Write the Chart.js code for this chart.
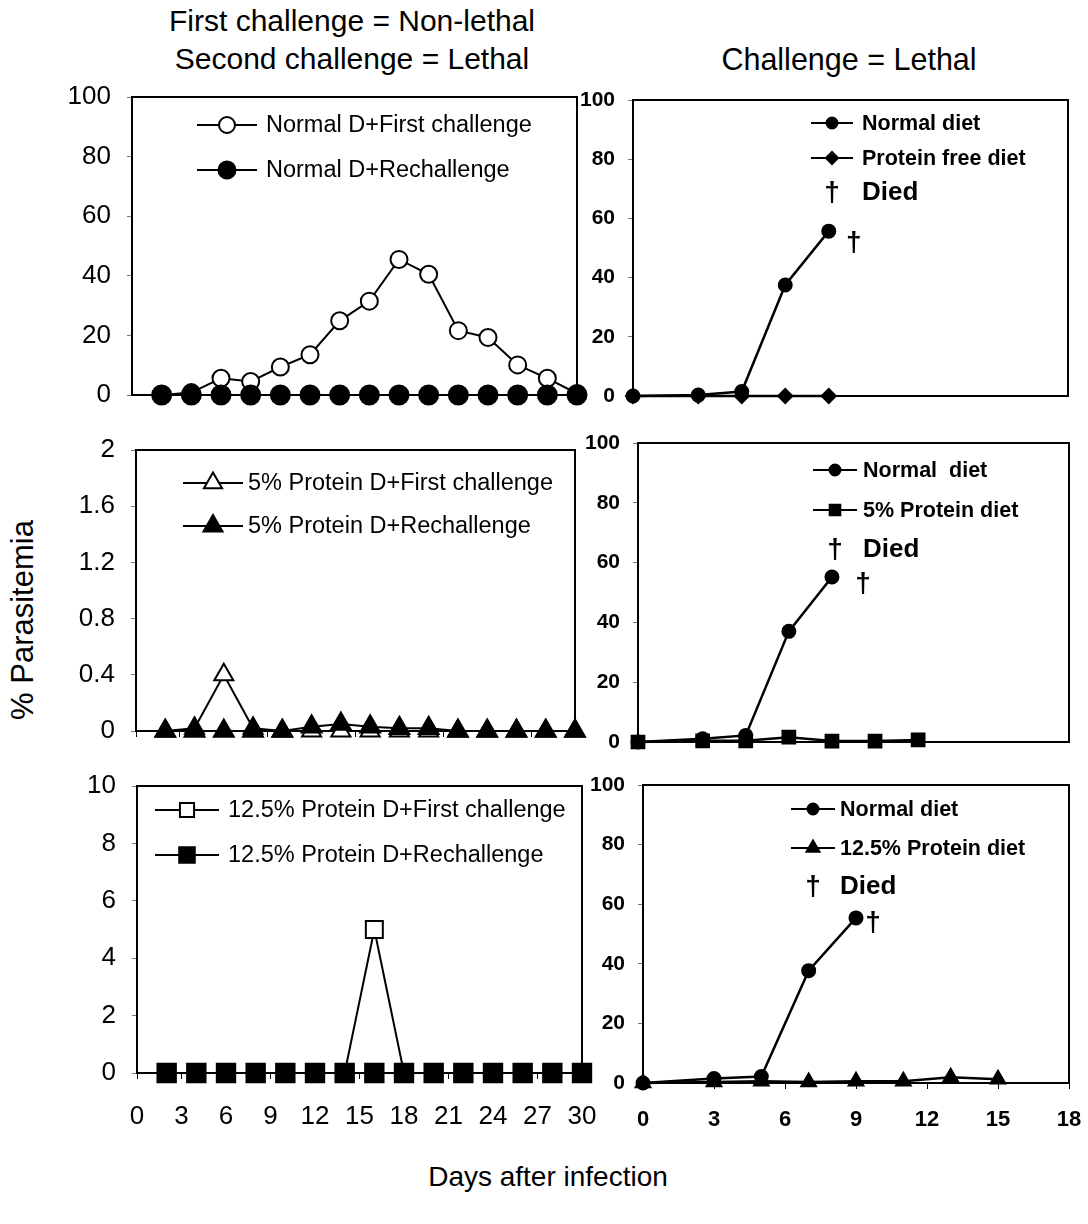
<!DOCTYPE html>
<html><head><meta charset="utf-8">
<script src="https://cdn.jsdelivr.net/npm/chart.js@4.4.1/dist/chart.umd.min.js"></script>
<style>
body{margin:0;background:#fff;}
#page{position:relative;width:1088px;height:1224px;background:#fff;overflow:hidden;font-family:"Liberation Sans",Arial,sans-serif;color:#000;}
.t{position:absolute;white-space:nowrap;transform:translate(-50%,-50%);line-height:1;}
canvas{position:absolute;}
</style></head><body><div id="page">
<div class="t" style="left:352px;top:21px;font-size:30px">First challenge = Non-lethal</div>
<div class="t" style="left:352px;top:59px;font-size:30px">Second challenge = Lethal</div>
<div class="t" style="left:849px;top:59px;font-size:30.5px">Challenge = Lethal</div>
<div class="t" style="left:22px;top:620px;font-size:31px;transform:translate(-50%,-50%) rotate(-90deg)">% Parasitemia</div>
<div class="t" style="left:548px;top:1177px;font-size:28px">Days after infection</div>
<canvas id="tl"></canvas><canvas id="tr"></canvas>
<canvas id="ml"></canvas><canvas id="mr"></canvas>
<canvas id="bl"></canvas><canvas id="br"></canvas>
</div>
<script>
// ---------- data ----------
const leftDays = [2,4,6,8,10,12,14,16,18,20,22,24,26,28,30];
const normalFirst = [0,0.8,5.6,4.5,9.4,13.5,24.9,31.5,45.5,40.5,21.6,19.3,10.1,5.6,0.5];
const normalRe    = [0,0,0,0,0,0,0,0,0,0,0,0,0,0,0];
const p5First     = [0,0.02,0.4,0.02,0,0,0,0,0,0,0,0,0,0,0];
const p5Re        = [0,0,0,0,0,0.03,0.05,0.03,0.02,0.02,0,0,0,0,0];
const p125First   = [0,0,0,0,0,0,0,5,0,0,0,0,0,0,0];
const p125Re      = [0,0,0,0,0,0,0,0,0,0,0,0,0,0,0];

const daysA = [0,3,5,7,9];
const normalDietA = [0,0.3,1.5,37.5,55.7];
const proteinFreeDiet = [0,0,0,0,0];
const daysB = [0,3,5,7,9,11,13];
const normalDietB = [0,1.1,2.2,37,55.2];
const protein5Diet = [0,0.4,0.4,1.6,0.3,0.3,0.7];
const daysC = [0,3,5,7,9,11,13,15];
const normalDietC = [0,1.5,2.2,37.7,55.4];
const protein125Diet = [0,0.3,0.6,0.3,0.6,0.6,1.9,1.3];

const ticksPct = [0,20,40,60,80,100];
const ticksML = [0,0.4,0.8,1.2,1.6,2];
const ticksBL = [0,2,4,6,8,10];
const ticksLeftX = [0,3,6,9,12,15,18,21,24,27,30];
const ticksRightX = [0,3,6,9,12,15,18];

const FONT = "'Liberation Sans', Arial, sans-serif";
const pts = (days, vals) => vals.map((v,i)=>({x:days[i], y:v}));

// ---------- plugins ----------
function marker(ctx, style, x, y, r, fill, bw){
  ctx.save();
  ctx.fillStyle = fill; ctx.strokeStyle = '#000'; ctx.lineWidth = bw;
  Chart.helpers.drawPoint(ctx, {pointStyle:style, radius:r, borderWidth:bw, rotation:0}, x, y);
  ctx.restore();
}
const boxPlugin = {
  id:'box',
  beforeDatasetsDraw(chart){
    const a = chart.chartArea, ctx = chart.ctx;
    ctx.save(); ctx.strokeStyle='#000'; ctx.lineWidth=2;
    ctx.strokeRect(a.left, a.top, a.right-a.left, a.bottom-a.top);
    ctx.restore();
  }
};
const legendPlugin = {
  id:'inLegend',
  afterDatasetsDraw(chart, args, o){
    if(!o || !o.items) return;
    const ctx = chart.ctx, a = chart.chartArea;
    ctx.save();
    o.items.forEach((it,i)=>{
      const y = a.top + o.y0 + i*o.dy;
      const xm = a.left + o.x0;
      ctx.fillStyle = '#000'; ctx.textBaseline='middle';
      if(it.dagger){
        ctx.font = o.daggerFont; ctx.textAlign='center';
        ctx.fillText('\u2020', xm, y);
        ctx.font = o.diedFont; ctx.textAlign='left';
        ctx.fillText(it.text, a.left + o.xt, y);
        return;
      }
      const ds = chart.data.datasets[it.ds];
      ctx.strokeStyle='#000'; ctx.lineWidth = o.lineW;
      ctx.beginPath(); ctx.moveTo(xm-o.half, y); ctx.lineTo(xm+o.half, y); ctx.stroke();
      marker(ctx, ds.pointStyle, xm, y, it.r, ds.pointBackgroundColor, ds.pointBorderWidth);
      ctx.fillStyle='#000'; ctx.font = o.font; ctx.textAlign='left';
      ctx.fillText(ds.label, a.left + o.xt, y + 1);
    });
    ctx.restore();
  }
};
const deathPlugin = {
  id:'death',
  afterDatasetsDraw(chart, args, o){
    if(!o || o.ds === undefined) return;
    const meta = chart.getDatasetMeta(o.ds);
    const p = meta.data[meta.data.length-1];
    const ctx = chart.ctx;
    ctx.save(); ctx.fillStyle='#000'; ctx.font=o.font; ctx.textAlign='center'; ctx.textBaseline='middle';
    ctx.fillText('\u2020', p.x + o.dx, p.y + o.dy);
    ctx.restore();
  }
};

// ---------- panel builder ----------
function panel(id, area, cfg){
  const yW = cfg.yW, padT = 15, padR = 15, xH = cfg.xH;
  const c = document.getElementById(id);
  const w = (area.r-area.l) + yW + padR, h = (area.b-area.t) + padT + xH;
  c.width = w; c.height = h;
  c.style.left = (area.l - yW)+'px'; c.style.top = (area.t - padT)+'px';
  c.style.width = w+'px'; c.style.height = h+'px';
  new Chart(c, {
    type:'line',
    data:{datasets:cfg.datasets},
    options:{
      responsive:false, animation:false, devicePixelRatio:1,
      layout:{padding:{top:padT,right:padR,left:0,bottom:0}},
      plugins:{legend:{display:false}, tooltip:{enabled:false}, inLegend:cfg.legend, death:cfg.death||{}},
      scales:{
        x:{type:'linear', min:cfg.xMin, max:cfg.xMax,
           afterBuildTicks(s){ s.ticks = cfg.xTicks.map(v=>({value:v})); },
           ticks:{display:cfg.xLabels, color:'#000', font:cfg.xFont, padding:cfg.xPad, maxRotation:0, autoSkip:false,
                  callback:v=>String(v)},
           grid:{display:cfg.xTickMarks, drawOnChartArea:false, drawTicks:true, tickLength:6, color:'#000', lineWidth:1},
           border:{display:false},
           afterFit(s){ s.height = xH; s.paddingLeft=0; s.paddingRight=0; }},
        y:{type:'linear', min:cfg.yMin, max:cfg.yMax,
           afterBuildTicks(s){ s.ticks = cfg.yTicks.map(v=>({value:v})); },
           ticks:{color:'#000', font:cfg.yFont, padding:cfg.yPad, autoSkip:false, callback:v=>String(v)},
           grid:{drawOnChartArea:false, drawTicks:true, tickLength:5, color:'#777', lineWidth:1},
           border:{display:false},
           afterFit(s){ s.width = yW; s.paddingTop=0; s.paddingBottom=0; }}
      }
    },
    plugins:[boxPlugin, legendPlugin, deathPlugin]
  });
}
function ds(label, data, style, filled, r, lw, order){
  return {label, data, pointStyle:style, pointRadius:r, pointHoverRadius:r,
    pointBackgroundColor: filled?'#000':'#fff', pointBorderColor:'#000', pointBorderWidth:2,
    borderColor:'#000', borderWidth:lw, tension:0, clip:false, order:order};
}
const leftY = {family:FONT, size:26};
const rightY = {family:FONT, size:21, weight:'bold'};
const legL = {font:`23.5px ${FONT}`, lineW:2};
const legR = {font:`bold 21.5px ${FONT}`, lineW:2, daggerFont:`bold 28px ${FONT}`, diedFont:`bold 26px ${FONT}`};

// top-left
panel('tl', {l:132,t:97,r:577,b:395}, {
  yW:132, xH:15, xMin:0, xMax:30, xTicks:ticksLeftX, xLabels:false, xTickMarks:false,
  yMin:0, yMax:100, yTicks:ticksPct, yFont:leftY, yPad:16,
  datasets:[ds('Normal D+First challenge', pts(leftDays, normalFirst), 'circle', false, 8.5, 2, 1),
            ds('Normal D+Rechallenge', pts(leftDays, normalRe), 'circle', true, 9.5, 2, 0)],
  legend:Object.assign({x0:95, xt:134, y0:28, dy:45, half:30, items:[{ds:0,r:8},{ds:1,r:8.5}]}, legL)
});
// top-right
panel('tr', {l:633,t:100,r:1068,b:396}, {
  yW:60, xH:15, xMin:0, xMax:20, xTicks:[], xLabels:false, xTickMarks:false,
  yMin:0, yMax:100, yTicks:ticksPct, yFont:rightY, yPad:13,
  datasets:[ds('Normal diet', pts(daysA, normalDietA), 'circle', true, 6.5, 2.5, 0),
            ds('Protein free diet', pts(daysA, proteinFreeDiet), 'rectRot', true, 7, 2.5, 1)],
  legend:Object.assign({x0:199, xt:229, y0:23, dy:35, half:21, items:[{ds:0,r:5.5},{ds:1,r:6},{dagger:true,text:'Died'}]}, legR),
  death:{ds:0, dx:25, dy:12, font:`bold 28px ${FONT}`}
});
// middle-left
panel('ml', {l:136,t:450,r:575,b:731}, {
  yW:130, xH:15, xMin:0, xMax:30, xTicks:ticksLeftX, xLabels:false, xTickMarks:true,
  yMin:0, yMax:2, yTicks:ticksML, yFont:leftY, yPad:16,
  datasets:[ds('5% Protein D+First challenge', pts(leftDays, p5First), 'triangle', false, 11, 2, 1),
            ds('5% Protein D+Rechallenge', pts(leftDays, p5Re), 'triangle', true, 11.5, 2, 0)],
  legend:Object.assign({x0:77, xt:112, y0:33, dy:43, half:30, items:[{ds:0,r:10.5},{ds:1,r:11}]}, legL)
});
// middle-right
panel('mr', {l:638,t:443,r:1069,b:742}, {
  yW:60, xH:15, xMin:0, xMax:20, xTicks:[], xLabels:false, xTickMarks:false,
  yMin:0, yMax:100, yTicks:ticksPct, yFont:rightY, yPad:13,
  datasets:[ds('Normal  diet', pts(daysB, normalDietB), 'circle', true, 6.5, 2.5, 0),
            ds('5% Protein diet', pts(daysB, protein5Diet), 'rect', true, 9, 2.5, 1)],
  legend:Object.assign({x0:197, xt:225, y0:27, dy:40, half:22, items:[{ds:0,r:5.5},{ds:1,r:7.5},{dagger:true,text:'Died'}]}, legR),
  death:{ds:0, dx:31, dy:7, font:`bold 28px ${FONT}`}
});
// bottom-left
panel('bl', {l:137,t:786,r:582,b:1073}, {
  yW:130, xH:70, xMin:0, xMax:30, xTicks:ticksLeftX, xLabels:true, xTickMarks:true,
  xFont:{family:FONT, size:26}, xPad:22,
  yMin:0, yMax:10, yTicks:ticksBL, yFont:leftY, yPad:16,
  datasets:[ds('12.5% Protein D+First challenge', pts(leftDays, p125First), 'rect', false, 12, 2, 1),
            ds('12.5% Protein D+Rechallenge', pts(leftDays, p125Re), 'rect', true, 13, 2, 0)],
  legend:Object.assign({x0:50, xt:91, y0:24, dy:45, half:32, items:[{ds:0,r:10},{ds:1,r:11}]}, legL)
});
// bottom-right
panel('br', {l:643,t:785,r:1069,b:1083}, {
  yW:60, xH:70, xMin:0, xMax:18, xTicks:ticksRightX, xLabels:true, xTickMarks:true,
  xFont:{family:FONT, size:22, weight:'bold'}, xPad:18,
  yMin:0, yMax:100, yTicks:ticksPct, yFont:rightY, yPad:13,
  datasets:[ds('Normal diet', pts(daysC, normalDietC), 'circle', true, 6.5, 2.5, 0),
            ds('12.5% Protein diet', pts(daysC, protein125Diet), 'triangle', true, 8.5, 2.5, 1)],
  legend:Object.assign({x0:170, xt:197, y0:24, dy:39, half:22, items:[{ds:0,r:5.5},{ds:1,r:7.5},{dagger:true,text:'Died'}]}, legR),
  death:{ds:0, dx:17, dy:5, font:`bold 28px ${FONT}`}
});
</script></body></html>
